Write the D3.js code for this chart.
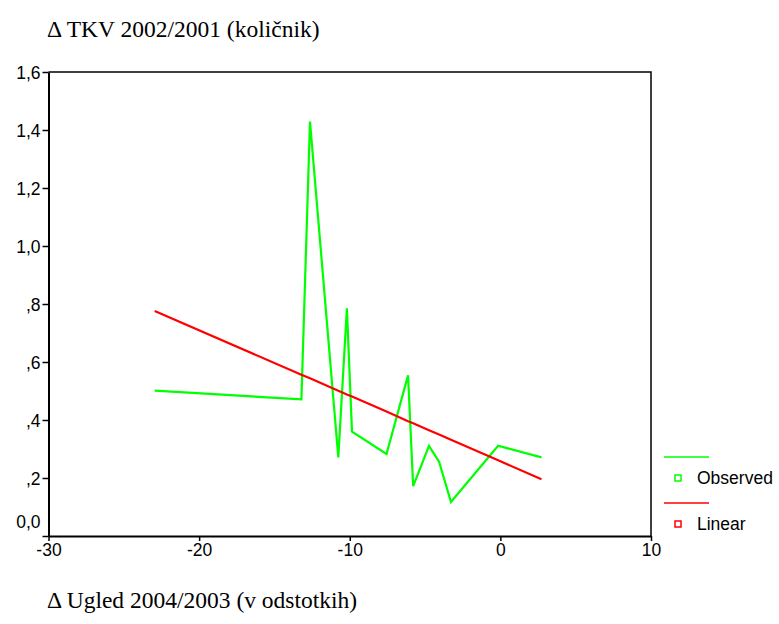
<!DOCTYPE html>
<html>
<head>
<meta charset="utf-8">
<script src="https://cdn.jsdelivr.net/npm/d3@7"></script>
<style>
  body { margin: 0; background: #fff; }
  text { font-family: "Liberation Sans", Arial, sans-serif; }
</style>
</head>
<body>
<div id="chart"></div>
<script>
// values
const ugled = [-22.95, -13.21, -12.64, -10.76, -10.19, -9.85, -7.56, -6.13, -5.79, -4.74, -4.07, -3.28, -0.15, 2.73];
const observed = [0.501, 0.471, 1.429, 0.271, 0.785, 0.360, 0.283, 0.554, 0.172, 0.311, 0.256, 0.117, 0.311, 0.271];
const linear = [0.776, 0.556, 0.544, 0.501, 0.488, 0.481, 0.429, 0.396, 0.389, 0.365, 0.350, 0.332, 0.261, 0.196];
const xTicks = [-30, -20, -10, 0, 10];
const yTicks = [0, 0.2, 0.4, 0.6, 0.8, 1.0, 1.2, 1.4, 1.6];
const legendNames = ["Observed", "Linear"];
const colors = ["#00ff00", "#ff0000"];

const svg = d3.select("#chart")
  .append("svg")
    .attr("width", 779)
    .attr("height", 624)

const x = d3.scaleLinear().domain([-30, 10]).range([48.5, 651]);
const y = d3.scaleLinear().domain([0, 1.6]).range([536, 72]);

// format like SPSS: 1,6  ,8  0,0
const fmtY = d => {
  if (d === 0) return "0,0";
  const s = d.toFixed(1).replace(".", ",");
  return s.startsWith("0") ? s.slice(1) : s;
};

// frame top + right
svg.append("path")
  .attr("d", `M${x(-30)},${y(1.6)}H${x(10)}V${y(0)}`)
  .style("fill", "none")
  .style("stroke", "#000")
  .style("stroke-width", 1.5)

const xAxis = svg.append("g")
  .attr("transform", `translate(0,${y(0)})`)
  .call(d3.axisBottom(x).tickValues(xTicks).tickSize(5).tickSizeOuter(0).tickFormat(d3.format("d")))
xAxis.select(".domain").style("stroke-width", 2)
xAxis.selectAll("line").style("stroke-width", 1.5)
xAxis.selectAll("text")
  .style("font-size", "17.5px")
  .style("font-family", "Liberation Sans, Arial, sans-serif")
  .attr("fill", "#000")
  .attr("dy", "0.95em")
  .attr("y", 3)
  .text(d => d < 0 ? "-" + Math.abs(d) : d)

const yAxis = svg.append("g")
  .attr("transform", `translate(${x(-30)},0)`)
  .call(d3.axisLeft(y).tickValues(yTicks).tickSize(6).tickSizeOuter(0).tickFormat(fmtY))
yAxis.select(".domain").style("stroke-width", 2)
yAxis.selectAll("line").style("stroke-width", 1.5)
yAxis.selectAll("text")
  .style("font-size", "17.5px")
  .style("font-family", "Liberation Sans, Arial, sans-serif")
  .attr("fill", "#000")
  .attr("x", -8)
  .attr("dy", d => d === 0 ? "-0.5em" : "0.35em")

const line = d3.line().x(d => x(d[0])).y(d => y(d[1]));

svg.append("path")
  .datum(d3.zip(ugled, observed))
  .attr("d", line)
  .style("fill", "none")
  .style("stroke", colors[0])
  .style("stroke-width", 2.2)

svg.append("path")
  .datum(d3.zip(ugled, linear))
  .attr("d", line)
  .style("fill", "none")
  .style("stroke", colors[1])
  .style("stroke-width", 2.2)

// legend
const legend = svg.append("g")
  .selectAll("g")
  .data(legendNames)
  .enter()
  .append("g")
    .attr("transform", (d, i) => `translate(664,${457 + i * 46})`)
legend.append("line")
  .attr("x1", 0).attr("x2", 45)
  .style("stroke", (d, i) => colors[i])
  .style("stroke-width", 1.5)
legend.append("rect")
  .attr("x", 11).attr("y", 18)
  .attr("width", 6).attr("height", 6)
  .style("fill", "none")
  .style("stroke", (d, i) => colors[i])
  .style("stroke-width", 1.5)
legend.append("text")
  .attr("x", 33).attr("y", 21)
  .attr("dy", "0.35em")
  .style("font-size", "17.5px")
  .text(d => d)

// titles
svg.append("text")
  .attr("x", 47).attr("y", 37)
  .style("font-family", "Liberation Serif, Times New Roman, serif")
  .style("font-size", "23.5px")
  .text("Δ TKV 2002/2001 (količnik)")

svg.append("text")
  .attr("x", 47).attr("y", 608)
  .style("font-family", "Liberation Serif, Times New Roman, serif")
  .style("font-size", "23.5px")
  .text("Δ Ugled 2004/2003 (v odstotkih)")
</script>
</body>
</html>
